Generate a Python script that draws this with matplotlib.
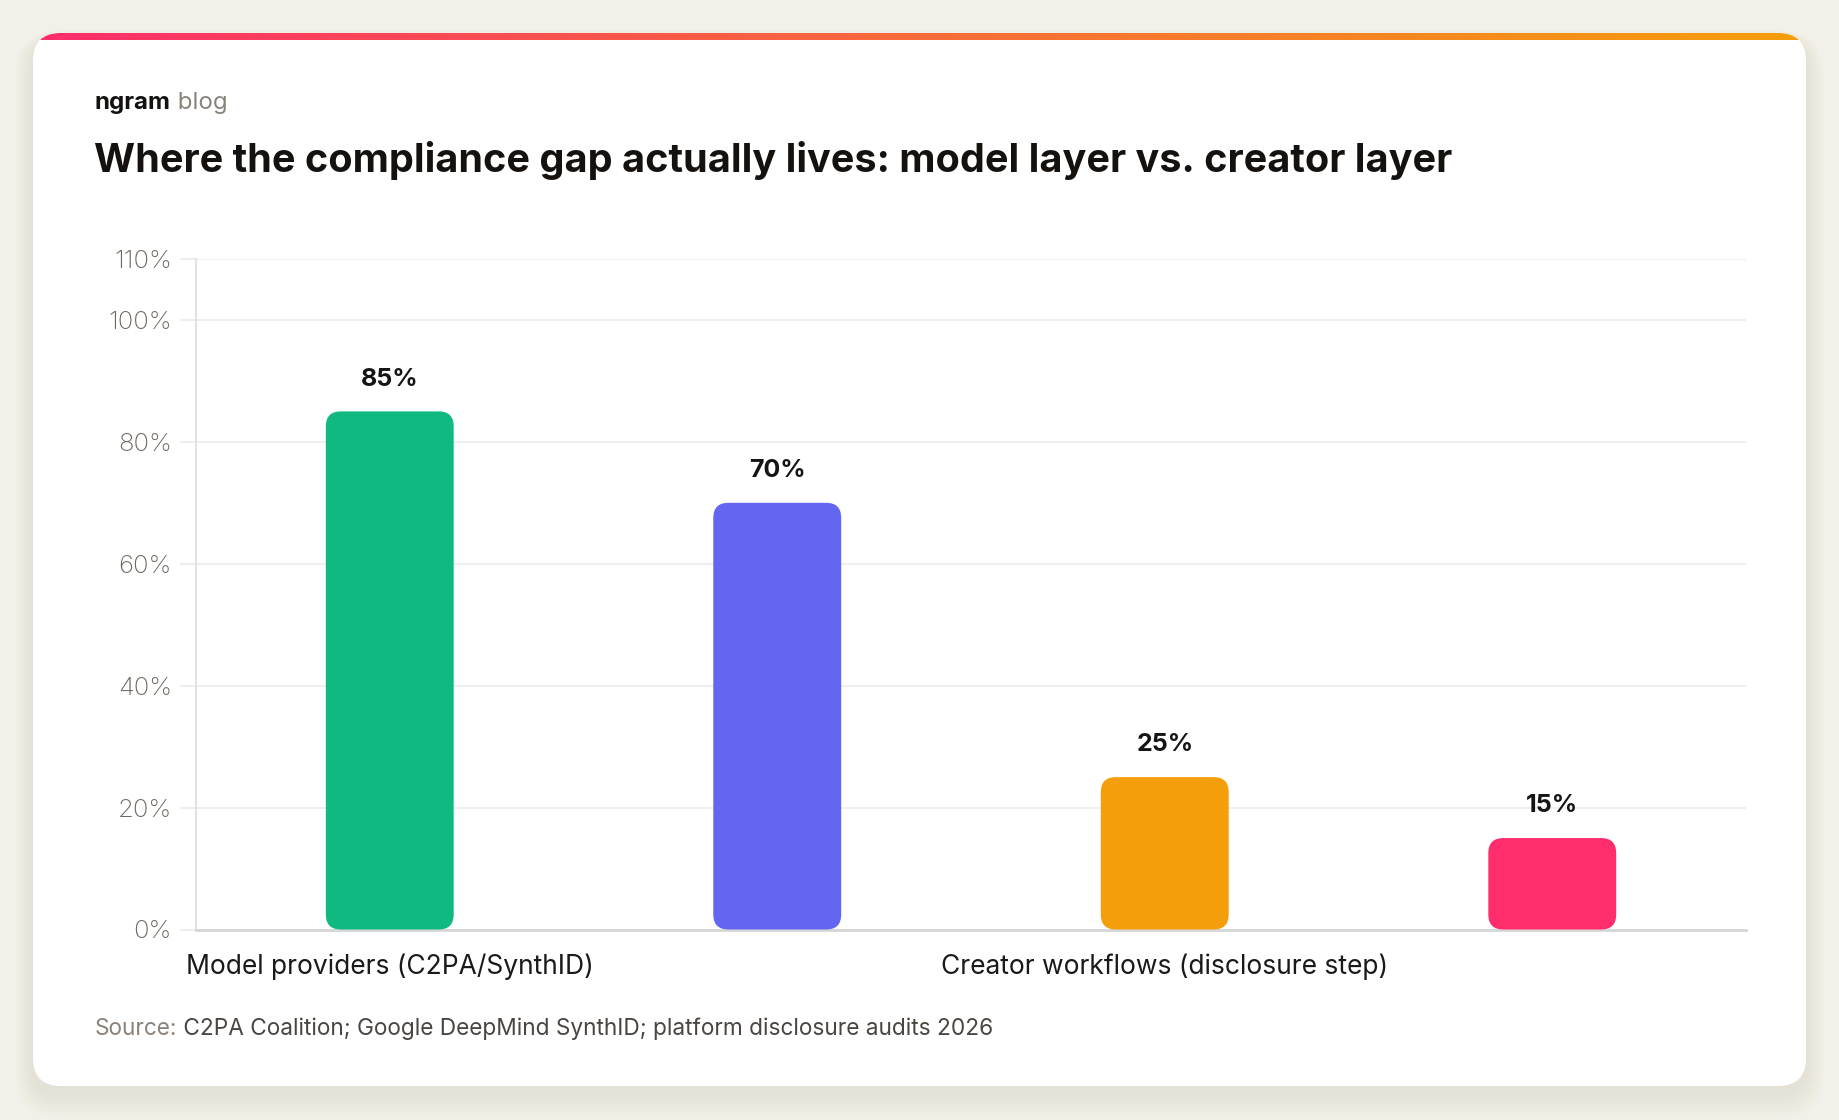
import matplotlib
matplotlib.use("Agg")
import matplotlib.pyplot as plt
from matplotlib.patches import FancyBboxPatch
from matplotlib.colors import LinearSegmentedColormap
import numpy as np

# ---------------- data ----------------
categories = ["Model providers (C2PA/SynthID)", "", "Creator workflows (disclosure step)", ""]
values = [85, 70, 25, 15]
bar_colors = ["#10B981", "#6366F1", "#F59E0B", "#FF2D6B"]
yticks = [0, 20, 40, 60, 80, 100, 110]
ytick_labels = ["0%", "20%", "40%", "60%", "80%", "100%", "110%"]
title = "Where the compliance gap actually lives: model layer vs. creator layer"
brand_main = "ngram"
brand_sub = " blog"
source_lead = "Source:"
source_text = " C2PA Coalition; Google DeepMind SynthID; platform disclosure audits 2026"

# ---------------- layout ----------------
W, H, DPI = 1840, 1120, 100
plt.rcParams['font.family'] = ['Inter', 'DejaVu Sans']

fig = plt.figure(figsize=(W / DPI, H / DPI), dpi=DPI)
fig.patch.set_facecolor("#F3F0EA")

bg = fig.add_axes([0, 0, 1, 1])
bg.set_xlim(0, W)
bg.set_ylim(H, 0)
bg.axis('off')

cx0, cy0, cx1, cy1 = 33, 33, 1806, 1086
# soft shadow
for k in range(1, 16):
    s = k * 2.4
    sh = FancyBboxPatch((cx0 - s * 0.5, cy0 + 8 - s * 0.3), (cx1 - cx0) + s, (cy1 - cy0) + s,
                        boxstyle="round,pad=0,rounding_size=%f" % (28 + s * 0.5),
                        fc="#8C7D62", ec="none", alpha=0.0065)
    bg.add_patch(sh)

card = FancyBboxPatch((cx0, cy0), cx1 - cx0, cy1 - cy0,
                      boxstyle="round,pad=0,rounding_size=28",
                      fc="white", ec="none")
bg.add_patch(card)

cmap = LinearSegmentedColormap.from_list("topbar", ["#FF2D6B", "#F76B3A", "#F59E0B"])
grad = np.linspace(0, 1, 512).reshape(1, -1)
im = bg.imshow(grad, extent=(cx0, cx1, cy0 + 7, cy0), aspect='auto', cmap=cmap, zorder=3)
im.set_clip_path(card)
bg.set_xlim(0, W)
bg.set_ylim(H, 0)

# header texts
t1 = bg.text(95, 109, brand_main, fontsize=17.3, fontweight='bold', color='#141210', va='baseline')
bg.annotate(brand_sub, xy=(1, 0), xycoords=t1, va='bottom', ha='left',
            fontsize=17.3, color='#8A8279')
bg.text(94, 171.5, title, fontsize=28.5, fontweight='bold', color='#15110E', va='baseline')

t2 = bg.text(95, 1035, source_lead, fontsize=16.3, color='#8A8279', va='baseline')
bg.annotate(source_text, xy=(1, 0), xycoords=t2, va='bottom', ha='left',
            fontsize=16.3, color='#4A4540')

# ---------------- chart ----------------
ax_l, ax_r, ax_t, ax_b = 196, 1746, 259, 929.5
ax = fig.add_axes([ax_l / W, 1 - ax_b / H, (ax_r - ax_l) / W, (ax_b - ax_t) / H])
ax.set_facecolor('none')
x = np.arange(len(values))
ax.set_xlim(-0.5, len(values) - 0.5)
ax.set_ylim(0, 110)

bars = ax.bar(x, values, width=0.33, color=bar_colors, zorder=3)
px_per_x = (ax_r - ax_l) / len(values)
px_per_y = (ax_b - ax_t) / 110.0
aspect = px_per_x / px_per_y
radius_px = 15
for rect, col in zip(bars, bar_colors):
    rect.set_visible(False)
    fb = FancyBboxPatch((rect.get_x(), rect.get_y()), rect.get_width(), rect.get_height(),
                        boxstyle="round,pad=0,rounding_size=%f" % (radius_px / px_per_x),
                        mutation_aspect=aspect, fc=col, ec='none', zorder=3)
    ax.add_patch(fb)

for xi, v in zip(x, values):
    ax.annotate(f"{v}%", xy=(xi, v), xytext=(0, 18.6), textcoords='offset points',
                ha='center', va='baseline', fontsize=18, fontweight='bold', color='#151515')

ax.set_yticks(yticks)
ax.set_yticklabels(ytick_labels)
for lbl in ax.get_yticklabels():
    lbl.set_fontweight('light')
ax.yaxis.grid(True, color='#EFEFEF', lw=1.5)
ax.set_axisbelow(True)
ax.tick_params(axis='y', length=11.5, width=1.5, color='#EDEDED', pad=5.8,
               labelsize=18.5, labelcolor='#6F685F')

ax.set_xticks(x)
ax.set_xticklabels(categories)
ax.tick_params(axis='x', length=0, pad=17, labelsize=19, labelcolor='#1A1A1A')

for s in ['top', 'right']:
    ax.spines[s].set_visible(False)
ax.spines['left'].set_color('#E2E2E2')
ax.spines['left'].set_linewidth(1.5)
ax.spines['bottom'].set_color('#D6D6D6')
ax.spines['bottom'].set_linewidth(2)

fig.savefig("out.png", dpi=DPI, facecolor=fig.get_facecolor())
